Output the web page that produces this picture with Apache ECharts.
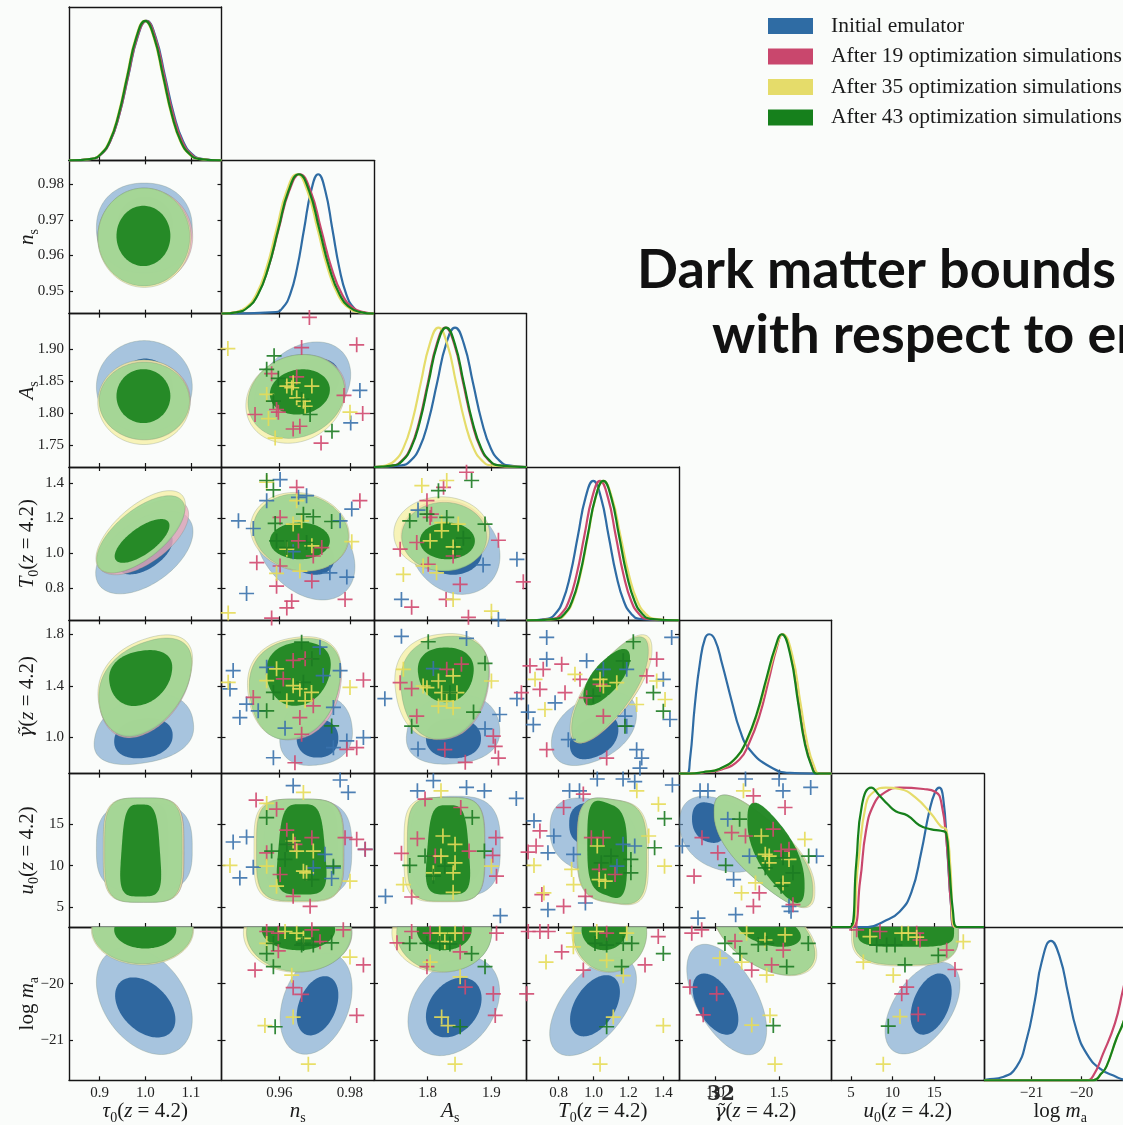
<!DOCTYPE html>
<html>
<head>
<meta charset="utf-8">
<title>Emulator convergence</title>
<script src="https://cdn.jsdelivr.net/npm/echarts@6/dist/echarts.min.js"></script>
<style>
html, body { margin: 0; padding: 0; background: #fafcfa; }
#corner { width: 1123px; height: 1125px; }
</style>
</head>
<body>
<div id="corner"></div>
<script>
var myChart = echarts.init(document.getElementById('corner'));

var names = ['Initial emulator', 'After 19 optimization simulations',
    'After 35 optimization simulations', 'After 43 optimization simulations'];

// axis ranges (x for columns, y for rows)
var xRange = [[0.833, 1.167], [0.9436, 0.9868], [1.716, 1.955], [0.615, 1.49], [0.715, 1.91], [2.65, 21.0], [-21.95, -18.9]];
var yRange = [null, [0.9436, 0.9868], [1.716, 1.955], [0.615, 1.49], [0.715, 1.91], [2.65, 21.0], [-21.705, -19.0]];
var xTicks = [[0.9, 1.0, 1.1], [0.96, 0.98], [1.8, 1.9], [0.8, 1.0, 1.2, 1.4], [1.0, 1.5], [5, 10, 15], [-21, -20]];
var yTicks = [null, [0.95, 0.96, 0.97, 0.98], [1.75, 1.80, 1.85, 1.90], [0.8, 1.0, 1.2, 1.4], [1.0, 1.4, 1.8], [5, 10, 15], [-21, -20]];
var xDec = [1, 2, 1, 1, 1, 0, 0];
var yDec = [0, 2, 2, 1, 1, 0, 0];

var axisNames = [
    '{i|τ}{s|0}{r|(}{i|z}{r| = 4.2)}',
    '{i|n}{s|s}',
    '{i|A}{s|s}',
    '{i|T}{s|0}{r|(}{i|z}{r| = 4.2)}',
    '{g|γ\u0303}{r|(}{i|z}{r| = 4.2)}',
    '{i|u}{s|0}{r|(}{i|z}{r| = 4.2)}',
    '{r|log }{i|m}{s|a}'
];

// 2D contours: [row, col, level(0=95%,1=68%), cx, cy, rx, ry, rho, squareness, rxRight?, ryTop?, taper?]
var contBlue = [
    [1, 0, 0, 0.998, 0.9677, 0.105, 0.0127, 0, 2.2], [1, 0, 1, 1.0, 0.969, 0.06, 0.0075, 0, 2],
    [2, 0, 0, 0.998, 1.841, 0.105, 0.072, 0, 2], [2, 0, 1, 1.0, 1.84, 0.06, 0.045, 0, 2],
    [3, 0, 0, 0.998, 1.003, 0.1066, 0.237, 0.5, 2], [3, 0, 1, 1.0, 1.002, 0.06, 0.125, 0.55, 2],
    [4, 0, 0, 0.997, 1.05, 0.108, 0.26, 0.25, 2.3, 0.108, 0.28, -0.1], [4, 0, 1, 0.996, 0.99, 0.064, 0.155, 0.15, 2.2],
    [5, 0, 0, 0.998, 12.0, 0.105, 5.2, 0, 3, 0.105, 5.5], [5, 0, 1, 1.0, 12.5, 0.05, 5.0, 0, 4],
    [6, 0, 0, 0.998, -20.3, 0.105, 0.95, -0.35, 2], [6, 0, 1, 1.0, -20.42, 0.066, 0.53, -0.4, 2],
    [2, 1, 0, 0.9665, 1.838, 0.0137, 0.073, 0.3, 2], [2, 1, 1, 0.969, 1.845, 0.008, 0.04, 0.3, 2],
    [3, 1, 0, 0.9673, 1.022, 0.0141, 0.291, -0.35, 2], [3, 1, 1, 0.968, 1.0, 0.0075, 0.125, -0.3, 2],
    [4, 1, 0, 0.9704, 1.05, 0.0102, 0.27, 0.1, 2.3, 0.0102, 0.27, -0.1], [4, 1, 1, 0.9708, 0.99, 0.0059, 0.15, 0, 2.2],
    [5, 1, 0, 0.968, 12.0, 0.0125, 5.8, 0, 3], [5, 1, 1, 0.9705, 13.0, 0.006, 4.5, 0, 3],
    [6, 1, 0, 0.9704, -20.35, 0.0102, 0.895, 0.3, 2], [6, 1, 1, 0.9708, -20.39, 0.0059, 0.523, 0.35, 2],
    [3, 2, 0, 1.843, 1.021, 0.0705, 0.258, -0.15, 2], [3, 2, 1, 1.84, 1.0, 0.045, 0.125, 0, 2],
    [4, 2, 0, 1.84, 1.06, 0.0726, 0.27, 0.1, 2.3, 0.0726, 0.27, -0.1], [4, 2, 1, 1.8406, 0.99, 0.0431, 0.155, 0, 2.2],
    [5, 2, 0, 1.843, 12.3, 0.071, 6.0, 0, 3], [5, 2, 1, 1.845, 12.5, 0.04, 4.5, 0, 3.5],
    [6, 2, 0, 1.841, -20.4, 0.0718, 0.87, 0.3, 2], [6, 2, 1, 1.841, -20.42, 0.0436, 0.527, 0.3, 2],
    [4, 3, 0, 1.002, 1.064, 0.244, 0.28, 0.4, 2.2], [4, 3, 1, 1.003, 1.0, 0.139, 0.17, 0.35, 2.2],
    [5, 3, 0, 1.0, 13.5, 0.25, 4.5, -0.2, 2.5], [5, 3, 1, 0.98, 15.0, 0.12, 2.5, 0, 2.5],
    [6, 3, 0, 0.997, -20.4, 0.249, 0.87, 0.55, 2], [6, 3, 1, 1.008, -20.39, 0.143, 0.54, 0.45, 2],
    [5, 4, 0, 1.03, 13.8, 0.31, 4.5, -0.3, 2.3, 0.35, 4.4], [5, 4, 1, 0.95, 15.14, 0.133, 2.4, -0.2, 2.3],
    [6, 4, 0, 1.089, -20.28, 0.313, 0.975, -0.55, 2], [6, 4, 1, 1.001, -20.36, 0.179, 0.54, -0.5, 2],
    [6, 5, 0, 13.6, -20.43, 4.51, 0.81, 0.5, 2], [6, 5, 1, 14.64, -20.36, 2.47, 0.54, 0.4, 2]
];
var contRed = [
    [1, 0, 0, 1.0, 0.9652, 0.104, 0.0136, 0, 2], [2, 0, 0, 0.999, 1.82, 0.1, 0.062, 0, 2],
    [3, 0, 0, 0.995, 1.09, 0.1, 0.215, 0.6, 2], [4, 0, 0, 1.0, 1.37, 0.1, 0.37, 0.35, 2.2, 0.1, 0.39, 0.15],
    [5, 0, 0, 0.997, 11.85, 0.088, 6.2, 0, 4], [6, 0, 0, 0.996, -19.05, 0.108, 0.6, 0, 2],
    [2, 1, 0, 0.965, 1.827, 0.0138, 0.064, 0.15, 2], [3, 1, 0, 0.966, 1.11, 0.0136, 0.215, -0.1, 2],
    [4, 1, 0, 0.9646, 1.37, 0.0128, 0.39, 0.1, 2.3, 0.0128, 0.39, 0.15], [5, 1, 0, 0.9658, 11.86, 0.0125, 6.1, 0, 4],
    [6, 1, 0, 0.9656, -19.1, 0.015, 0.68, 0, 2], [3, 2, 0, 1.826, 1.1, 0.068, 0.2, 0, 2],
    [4, 2, 0, 1.828, 1.38, 0.068, 0.4, 0.1, 2.3, 0.068, 0.4, 0.15], [5, 2, 0, 1.829, 11.94, 0.061, 6.2, 0, 4],
    [6, 2, 0, 1.826, -19.1, 0.074, 0.68, 0, 2], [4, 3, 0, 1.1, 1.365, 0.225, 0.4, 0.75, 2.2],
    [5, 3, 0, 1.106, 11.74, 0.2, 6.2, -0.1, 3.5], [6, 3, 0, 1.09, -19.1, 0.205, 0.68, 0, 2],
    [5, 4, 0, 1.38, 11.74, 0.39, 6.26, -0.75, 2.5], [6, 4, 0, 1.38, -19.1, 0.4, 0.74, -0.5, 2],
    [6, 5, 0, 11.6, -19.12, 6.3, 0.55, 0, 3]
];
var contYellow = [
    [1, 0, 0, 0.998, 0.965, 0.102, 0.014, 0, 2], [2, 0, 0, 0.997, 1.817, 0.101, 0.066, 0, 2],
    [3, 0, 0, 0.99, 1.12, 0.098, 0.235, 0.65, 2], [4, 0, 0, 1.0, 1.4, 0.102, 0.38, 0.35, 2.2, 0.102, 0.39, 0.15],
    [5, 0, 0, 0.996, 11.85, 0.088, 6.25, 0, 4], [6, 0, 0, 0.994, -19.05, 0.112, 0.62, 0, 2],
    [2, 1, 0, 0.9645, 1.822, 0.014, 0.069, 0.15, 2], [3, 1, 0, 0.9658, 1.12, 0.014, 0.225, -0.1, 2],
    [4, 1, 0, 0.9642, 1.385, 0.013, 0.395, 0.15, 2.3, 0.013, 0.395, 0.15], [5, 1, 0, 0.9655, 11.8, 0.0127, 6.15, 0, 4],
    [6, 1, 0, 0.965, -19.1, 0.0152, 0.7, 0, 2], [3, 2, 0, 1.822, 1.11, 0.075, 0.21, 0, 2],
    [4, 2, 0, 1.822, 1.395, 0.072, 0.41, 0.1, 2.3, 0.072, 0.41, 0.15], [5, 2, 0, 1.826, 11.9, 0.063, 6.25, 0, 4],
    [6, 2, 0, 1.822, -19.1, 0.078, 0.7, 0, 2], [4, 3, 0, 1.1, 1.375, 0.235, 0.41, 0.75, 2.2],
    [5, 3, 0, 1.11, 11.7, 0.205, 6.25, -0.1, 3.5], [6, 3, 0, 1.09, -19.1, 0.215, 0.7, 0, 2],
    [5, 4, 0, 1.385, 11.7, 0.395, 6.3, -0.75, 2.5], [6, 4, 0, 1.385, -19.1, 0.41, 0.76, -0.5, 2],
    [6, 5, 0, 11.5, -19.12, 6.45, 0.57, 0, 3]
];
var contGreen = [
    [1, 0, 0, 0.997, 0.9652, 0.1005, 0.0138, 0, 2], [1, 0, 1, 0.996, 0.9655, 0.059, 0.0085, 0, 2],
    [2, 0, 0, 0.998, 1.819, 0.099, 0.0606, 0, 2], [2, 0, 1, 0.996, 1.8265, 0.059, 0.042, 0, 2],
    [3, 0, 0, 0.99, 1.106, 0.0965, 0.22, 0.65, 2], [3, 0, 1, 0.993, 1.068, 0.06, 0.125, 0.7, 2],
    [4, 0, 0, 1.0, 1.38, 0.1, 0.37, 0.35, 2.2, 0.1, 0.385, 0.15], [4, 0, 1, 0.99, 1.46, 0.068, 0.216, 0.2, 2.2, 0.068, 0.216, 0.15],
    [5, 0, 0, 0.996, 11.85, 0.085, 6.25, 0, 4], [5, 0, 1, 0.99, 11.8, 0.042, 5.5, 0, 4, 0.042, 5.5, -0.17],
    [6, 0, 0, 0.994, -19.05, 0.11, 0.6, 0, 2], [6, 0, 1, 1.0, -19.05, 0.068, 0.33, 0, 2],
    [2, 1, 0, 0.9648, 1.826, 0.0137, 0.0654, 0.15, 2], [2, 1, 1, 0.9658, 1.833, 0.0085, 0.0353, 0.1, 2],
    [3, 1, 0, 0.9661, 1.116, 0.01346, 0.22, -0.1, 2], [3, 1, 1, 0.9658, 1.068, 0.0085, 0.105, 0, 2],
    [4, 1, 0, 0.9644, 1.375, 0.0127, 0.392, 0.15, 2.3, 0.0127, 0.392, 0.15], [4, 1, 1, 0.9654, 1.492, 0.009, 0.248, 0.1, 2.2, 0.009, 0.248, 0.15],
    [5, 1, 0, 0.9658, 11.86, 0.01227, 6.1, 0, 4], [5, 1, 1, 0.9663, 11.94, 0.0066, 5.41, 0, 4, 0.0066, 5.41, -0.17],
    [6, 1, 0, 0.9656, -19.1, 0.0149, 0.69, 0, 2], [6, 1, 1, 0.9654, -19.05, 0.0104, 0.36, 0, 2],
    [3, 2, 0, 1.826, 1.092, 0.0666, 0.196, 0, 2], [3, 2, 1, 1.831, 1.068, 0.0431, 0.105, 0, 2],
    [4, 2, 0, 1.827, 1.385, 0.0679, 0.4, 0.1, 2.3, 0.0679, 0.4, 0.15], [4, 2, 1, 1.8285, 1.485, 0.0431, 0.213, 0, 2.2, 0.0431, 0.213, 0.15],
    [5, 2, 0, 1.8288, 11.94, 0.0605, 6.22, 0, 4], [5, 2, 1, 1.832, 11.88, 0.0325, 5.35, 0, 4, 0.0325, 5.35, -0.17],
    [6, 2, 0, 1.826, -19.1, 0.0744, 0.69, 0, 2], [6, 2, 1, 1.826, -19.05, 0.043, 0.36, 0, 2],
    [4, 3, 0, 1.094, 1.369, 0.22, 0.4, 0.75, 2.2], [4, 3, 1, 1.075, 1.467, 0.134, 0.213, 0.7, 2.2],
    [5, 3, 0, 1.106, 11.74, 0.198, 6.2, -0.1, 3.5], [5, 3, 1, 1.078, 11.94, 0.114, 5.6, -0.15, 3.5],
    [6, 3, 0, 1.094, -19.1, 0.21, 0.69, 0, 2], [6, 3, 1, 1.06, -19.05, 0.129, 0.36, 0, 2],
    [5, 4, 0, 1.376, 11.74, 0.387, 6.26, -0.75, 2.5], [5, 4, 1, 1.475, 11.53, 0.224, 5.6, -0.7, 2.5],
    [6, 4, 0, 1.38, -19.1, 0.4, 0.75, -0.5, 2], [6, 4, 1, 1.42, -19.05, 0.25, 0.3, -0.4, 2],
    [6, 5, 0, 11.59, -19.12, 6.32, 0.55, 0, 3], [6, 5, 1, 11.6, -19.05, 5.8, 0.3, 0, 4]
];

// 1D marginals, one list of [x, y] per parameter
var margBlue = [
    [[0.833, 0], [0.883, 0.011], [0.903, 0.044], [0.923, 0.135], [0.943, 0.325], [0.963, 0.607], [0.983, 0.882], [1.003, 1], [1.023, 0.882], [1.043, 0.607], [1.063, 0.325], [1.083, 0.135], [1.103, 0.044], [1.123, 0.011], [1.167, 0]],
    [[0.9436, 0], [0.959, 0.011], [0.961, 0.044], [0.963, 0.135], [0.965, 0.325], [0.967, 0.607], [0.969, 0.882], [0.971, 1], [0.973, 0.882], [0.975, 0.607], [0.977, 0.325], [0.979, 0.135], [0.981, 0.044], [0.983, 0.011], [0.9868, 0]],
    [[1.716, 0], [1.759, 0.011], [1.773, 0.044], [1.787, 0.135], [1.801, 0.325], [1.815, 0.607], [1.829, 0.882], [1.843, 1], [1.857, 0.882], [1.871, 0.607], [1.885, 0.325], [1.899, 0.135], [1.913, 0.044], [1.927, 0.011], [1.955, 0]],
    [[0.615, 0], [0.734, 0.011], [0.778, 0.044], [0.822, 0.135], [0.866, 0.325], [0.91, 0.607], [0.954, 0.882], [0.998, 1], [1.042, 0.882], [1.086, 0.607], [1.13, 0.325], [1.174, 0.135], [1.218, 0.044], [1.262, 0.011], [1.49, 0]],
    [[0.715, 0], [0.775, 0], [0.801, 0.1], [0.84, 0.5], [0.88, 0.8], [0.919, 0.97], [0.952, 1.0], [0.997, 0.96], [1.052, 0.79], [1.128, 0.52], [1.193, 0.31], [1.271, 0.17], [1.428, 0.05], [1.585, 0.005], [1.74, 0], [1.91, 0]],
    [[2.65, 0], [7.04, 0], [8.94, 0.04], [10.84, 0.11], [12.27, 0.25], [13.46, 0.54], [14.42, 0.83], [15.13, 0.97], [15.61, 1.0], [16.08, 0.93], [16.56, 0.57], [17.03, 0.16], [17.41, 0], [21.0, 0]],
    [[-21.95, 0], [-21.9, 0.005], [-21.57, 0.024], [-21.3, 0.096], [-21.1, 0.289], [-20.93, 0.578], [-20.8, 0.843], [-20.61, 1.0], [-20.43, 0.879], [-20.27, 0.626], [-20.1, 0.361], [-19.9, 0.193], [-19.63, 0.084], [-19.3, 0.024], [-19.17, 0.007], [-18.9, 0]]
];
var margRed = [
    [[0.833, 0], [0.8835, 0.011], [0.9033, 0.044], [0.923, 0.135], [0.9428, 0.325], [0.9625, 0.607], [0.9823, 0.882], [1.002, 1], [1.0218, 0.882], [1.0415, 0.607], [1.0613, 0.325], [1.081, 0.135], [1.1008, 0.044], [1.1205, 0.011], [1.167, 0]],
    [[0.9436, 0], [0.9478, 0.011], [0.9508, 0.044], [0.9538, 0.135], [0.9568, 0.325], [0.9598, 0.607], [0.9628, 0.882], [0.9658, 1], [0.9688, 0.882], [0.9718, 0.607], [0.9748, 0.325], [0.9778, 0.135], [0.9808, 0.044], [0.9838, 0.011], [0.9868, 0]],
    [[1.716, 0], [1.7455, 0.011], [1.7593, 0.044], [1.773, 0.135], [1.7868, 0.325], [1.8005, 0.607], [1.8143, 0.882], [1.828, 1], [1.8418, 0.882], [1.8555, 0.607], [1.8693, 0.325], [1.883, 0.135], [1.8968, 0.044], [1.9105, 0.011], [1.955, 0]],
    [[0.615, 0], [0.767, 0.011], [0.812, 0.044], [0.857, 0.135], [0.902, 0.325], [0.947, 0.607], [0.992, 0.882], [1.037, 1], [1.082, 0.882], [1.127, 0.607], [1.172, 0.325], [1.217, 0.135], [1.262, 0.044], [1.307, 0.011], [1.49, 0]],
    [[0.715, 0], [0.801, 0], [0.9, 0.008], [1.05, 0.03], [1.187, 0.1], [1.265, 0.22], [1.344, 0.41], [1.42, 0.68], [1.48, 0.9], [1.525, 1.0], [1.59, 0.86], [1.655, 0.5], [1.707, 0.21], [1.76, 0.05], [1.8, 0], [1.91, 0]],
    [[2.65, 0], [5.14, 0], [6.09, 0.33], [6.8, 0.69], [7.75, 0.88], [8.94, 0.96], [10.84, 1.0], [13.71, 0.99], [15.13, 0.97], [15.84, 0.9], [16.56, 0.57], [17.03, 0.16], [17.5, 0], [21.0, 0]],
    [[-21.95, 0], [-19.9, 0], [-19.77, 0.03], [-19.57, 0.19], [-19.33, 0.41], [-19.17, 0.65], [-19.0, 0.9], [-18.85, 1.0]]
];
var margYellow = [
    [[0.833, 0], [0.882, 0.011], [0.9015, 0.044], [0.921, 0.135], [0.9405, 0.325], [0.96, 0.607], [0.9795, 0.882], [0.999, 1], [1.0185, 0.882], [1.038, 0.607], [1.0575, 0.325], [1.077, 0.135], [1.0965, 0.044], [1.116, 0.011], [1.167, 0]],
    [[0.9436, 0], [0.9476, 0.011], [0.9505, 0.044], [0.9534, 0.135], [0.9563, 0.325], [0.9592, 0.607], [0.9621, 0.882], [0.965, 1], [0.9679, 0.882], [0.9708, 0.607], [0.9737, 0.325], [0.9766, 0.135], [0.9795, 0.044], [0.9824, 0.011], [0.9868, 0]],
    [[1.716, 0], [1.7345, 0.011], [1.7483, 0.044], [1.762, 0.135], [1.7758, 0.325], [1.7895, 0.607], [1.8033, 0.882], [1.817, 1], [1.8308, 0.882], [1.8445, 0.607], [1.8583, 0.325], [1.872, 0.135], [1.8858, 0.044], [1.8995, 0.011], [1.955, 0]],
    [[0.615, 0], [0.792, 0.011], [0.836, 0.044], [0.88, 0.135], [0.924, 0.325], [0.968, 0.607], [1.012, 0.882], [1.056, 1], [1.105, 0.882], [1.154, 0.607], [1.203, 0.325], [1.252, 0.135], [1.301, 0.044], [1.35, 0.011], [1.49, 0]],
    [[0.715, 0], [0.801, 0], [0.9, 0.01], [1.04, 0.036], [1.17, 0.12], [1.25, 0.24], [1.33, 0.43], [1.41, 0.69], [1.475, 0.9], [1.528, 1.0], [1.6, 0.86], [1.668, 0.5], [1.722, 0.21], [1.775, 0.05], [1.815, 0], [1.91, 0]],
    [[2.65, 0], [4.9, 0], [5.85, 0.45], [6.8, 0.88], [7.75, 0.97], [9.18, 1.0], [10.84, 0.99], [12.74, 0.93], [14.66, 0.81], [15.84, 0.72], [16.46, 0.7], [16.93, 0.45], [17.5, 0], [21.0, 0]],
    [[-21.95, 0], [-19.77, 0], [-19.6, 0.05], [-19.5, 0.1], [-19.3, 0.3], [-19.17, 0.41], [-19.0, 0.62], [-18.9, 0.8]]
];
var margGreen = [
    [[0.833, 0], [0.883, 0.011], [0.9025, 0.044], [0.922, 0.135], [0.9415, 0.325], [0.961, 0.607], [0.9805, 0.882], [1.0, 1], [1.0195, 0.882], [1.039, 0.607], [1.0585, 0.325], [1.078, 0.135], [1.0975, 0.044], [1.117, 0.011], [1.167, 0]],
    [[0.9436, 0], [0.9481, 0.011], [0.951, 0.044], [0.9539, 0.135], [0.9568, 0.325], [0.9597, 0.607], [0.9626, 0.882], [0.9655, 1], [0.9684, 0.882], [0.9713, 0.607], [0.9742, 0.325], [0.9771, 0.135], [0.98, 0.044], [0.9829, 0.011], [0.9868, 0]],
    [[1.716, 0], [1.7465, 0.011], [1.7603, 0.044], [1.774, 0.135], [1.7878, 0.325], [1.8015, 0.607], [1.8153, 0.882], [1.829, 1], [1.8428, 0.882], [1.8565, 0.607], [1.8703, 0.325], [1.884, 0.135], [1.8978, 0.044], [1.9115, 0.011], [1.955, 0]],
    [[0.615, 0], [0.786, 0.011], [0.831, 0.044], [0.876, 0.135], [0.921, 0.325], [0.966, 0.607], [1.011, 0.882], [1.056, 1], [1.101, 0.882], [1.146, 0.607], [1.191, 0.325], [1.236, 0.135], [1.281, 0.044], [1.326, 0.011], [1.49, 0]],
    [[0.715, 0], [0.801, 0], [0.9, 0.01], [1.036, 0.036], [1.167, 0.12], [1.245, 0.24], [1.324, 0.43], [1.402, 0.69], [1.467, 0.9], [1.52, 1.0], [1.585, 0.86], [1.65, 0.5], [1.702, 0.21], [1.755, 0.05], [1.794, 0], [1.91, 0]],
    [[2.65, 0], [4.9, 0], [5.62, 0.45], [6.33, 0.88], [7.43, 1.0], [8.47, 0.94], [9.42, 0.88], [10.37, 0.83], [11.79, 0.8], [13.22, 0.73], [14.66, 0.7], [15.84, 0.69], [16.46, 0.67], [16.8, 0.45], [17.27, 0.11], [17.75, 0], [21.0, 0]],
    [[-21.95, 0], [-19.77, 0], [-19.6, 0.05], [-19.5, 0.1], [-19.3, 0.3], [-19.17, 0.41], [-19.0, 0.62], [-18.9, 0.8]]
];

// optimisation simulations: [row, col, x, y]
var crossBlue = [
    [2, 1, 0.9828, 1.8354], [2, 1, 0.9802, 1.7846],
    [3, 1, 0.9602, 1.418], [3, 1, 0.9564, 1.298], [3, 1, 0.9654, 1.317], [3, 1, 0.9677, 1.326], [3, 1, 0.9484, 1.183], [3, 1, 0.9526, 1.139],
    [3, 1, 0.9805, 1.25], [3, 1, 0.9772, 1.183], [3, 1, 0.9791, 0.862], [3, 1, 0.9743, 0.886], [3, 1, 0.9507, 0.768], [3, 1, 0.9639, 1.007],
    [4, 1, 0.9469, 1.518], [4, 1, 0.946, 1.375], [4, 1, 0.9507, 1.257], [4, 1, 0.9488, 1.152], [4, 1, 0.954, 1.205], [4, 1, 0.9564, 1.544],
    [4, 1, 0.9715, 1.701], [4, 1, 0.9772, 1.518], [4, 1, 0.9753, 1.231], [4, 1, 0.9616, 1.069], [4, 1, 0.9583, 0.839], [4, 1, 0.9791, 0.97],
    [4, 1, 0.9838, 0.996], [4, 1, 0.9724, 1.479], [4, 1, 0.9753, 0.917],
    [5, 1, 0.9639, 19.56], [5, 1, 0.9772, 20.24], [5, 1, 0.9795, 18.75], [5, 1, 0.9469, 12.82], [5, 1, 0.9507, 13.42], [5, 1, 0.9526, 9.81],
    [5, 1, 0.9488, 8.52], [5, 1, 0.9729, 11.34], [5, 1, 0.9748, 8.45], [5, 1, 0.9753, 9.73], [5, 1, 0.9843, 11.94], [5, 1, 0.9696, 9.73],
    [3, 2, 1.785, 1.244], [3, 2, 1.94, 0.963], [3, 2, 1.887, 0.931], [3, 2, 1.759, 0.734], [3, 2, 1.911, 0.619],
    [4, 2, 1.759, 1.785], [4, 2, 1.861, 1.769], [4, 2, 1.733, 1.299], [4, 2, 1.94, 1.299], [4, 2, 1.913, 1.176], [4, 2, 1.89, 1.064],
    [4, 2, 1.785, 0.907], [4, 2, 1.809, 1.534],
    [5, 2, 1.809, 20.16], [5, 2, 1.784, 18.95], [5, 2, 1.861, 19.35], [5, 2, 1.889, 18.95], [5, 2, 1.939, 18.03], [5, 2, 1.734, 6.32], [5, 2, 1.914, 4.0],
    [4, 3, 0.731, 1.777], [4, 3, 0.731, 1.607], [4, 3, 0.96, 1.594], [4, 3, 1.056, 1.528], [4, 3, 1.19, 1.528], [4, 3, 0.779, 1.267],
    [4, 3, 0.625, 1.195], [4, 3, 0.654, 1.097], [4, 3, 0.855, 0.98], [4, 3, 1.18, 1.163], [4, 3, 1.19, 1.085], [4, 3, 1.247, 0.902],
    [4, 3, 1.276, 0.836], [4, 3, 1.266, 0.758], [4, 3, 1.4, 1.45], [4, 3, 1.448, 1.777], [4, 3, 1.438, 1.137],
    [5, 3, 0.919, 18.95], [5, 3, 0.862, 18.95], [5, 3, 1.021, 20.36], [5, 3, 1.169, 20.36], [5, 3, 1.236, 20.04], [5, 3, 1.452, 19.64],
    [5, 3, 0.658, 15.35], [5, 3, 0.772, 13.54], [5, 3, 0.738, 11.53], [5, 3, 0.885, 11.34], [5, 3, 1.134, 9.93], [5, 3, 1.236, 12.34],
    [5, 3, 0.738, 4.72], [5, 3, 0.953, 5.52], [5, 3, 1.169, 12.54],
    [5, 4, 0.88, 18.95], [5, 4, 0.942, 18.95], [5, 4, 1.236, 20.36], [5, 4, 1.499, 20.36], [5, 4, 1.53, 18.95], [5, 4, 1.747, 19.35],
    [5, 4, 0.741, 12.34], [5, 4, 1.097, 15.55], [5, 4, 1.267, 11.14], [5, 4, 1.143, 8.33], [5, 4, 0.864, 3.71], [5, 4, 1.159, 4.12],
    [5, 4, 1.577, 5.12], [5, 4, 1.593, 4.52], [5, 4, 1.793, 11.14]
];
var crossRed = [
    [2, 1, 0.9685, 1.9492], [2, 1, 0.9819, 1.9064], [2, 1, 0.9663, 1.9022], [2, 1, 0.9578, 1.8614], [2, 1, 0.9649, 1.8563], [2, 1, 0.9783, 1.8276],
    [2, 1, 0.9531, 1.7978], [2, 1, 0.9597, 1.8014], [2, 1, 0.9836, 1.7994], [2, 1, 0.9639, 1.7752], [2, 1, 0.9658, 1.7795], [2, 1, 0.9718, 1.7533], [2, 1, 0.9592, 1.8056],
    [3, 1, 0.9649, 1.374], [3, 1, 0.9828, 1.298], [3, 1, 0.9602, 1.202], [3, 1, 0.9536, 0.944], [3, 1, 0.9602, 0.925], [3, 1, 0.9592, 0.81],
    [3, 1, 0.9692, 0.839], [3, 1, 0.9696, 0.982], [3, 1, 0.972, 1.03], [3, 1, 0.9654, 1.068], [3, 1, 0.9786, 0.734], [3, 1, 0.9635, 0.724],
    [3, 1, 0.9621, 0.686], [3, 1, 0.9578, 0.628],
    [4, 1, 0.9639, 1.597], [4, 1, 0.9673, 1.61], [4, 1, 0.9611, 1.453], [4, 1, 0.9696, 1.244], [4, 1, 0.9658, 1.152], [4, 1, 0.9663, 1.022],
    [4, 1, 0.9526, 1.309], [4, 1, 0.9838, 1.445], [4, 1, 0.9791, 0.905], [4, 1, 0.9644, 0.8], [4, 1, 0.9819, 0.917],
    [5, 1, 0.9534, 17.84], [5, 1, 0.9592, 16.75], [5, 1, 0.9621, 14.23], [5, 1, 0.9692, 13.34], [5, 1, 0.9564, 11.53], [5, 1, 0.9602, 8.93],
    [5, 1, 0.9639, 6.32], [5, 1, 0.9687, 5.12], [5, 1, 0.9786, 13.34], [5, 1, 0.9819, 13.14], [5, 1, 0.9843, 11.94], [5, 1, 0.9644, 12.54],
    [6, 1, 0.9564, -19.08], [6, 1, 0.9597, -19.11], [6, 1, 0.9692, -19.05], [6, 1, 0.9781, -19.05], [6, 1, 0.9715, -19.26], [6, 1, 0.9597, -19.42],
    [6, 1, 0.9531, -19.76], [6, 1, 0.9838, -19.67], [6, 1, 0.9639, -20.07], [6, 1, 0.9663, -20.19], [6, 1, 0.9819, -20.56],
    [3, 2, 1.861, 1.46], [3, 2, 1.799, 1.298], [3, 2, 1.825, 1.374], [3, 2, 1.804, 1.202], [3, 2, 1.757, 1.021], [3, 2, 1.783, 1.059],
    [3, 2, 1.911, 1.072], [3, 2, 1.801, 0.935], [3, 2, 1.84, 0.982], [3, 2, 1.851, 0.82], [3, 2, 1.829, 0.734], [3, 2, 1.775, 0.69],
    [3, 2, 1.864, 0.632], [3, 2, 1.95, 0.835], [3, 2, 1.806, 1.221],
    [4, 2, 1.757, 1.424], [4, 2, 1.775, 1.377], [4, 2, 1.853, 1.568], [4, 2, 1.83, 1.528], [4, 2, 1.783, 1.163], [4, 2, 1.827, 0.902],
    [4, 2, 1.859, 0.803], [4, 2, 1.903, 1.007], [4, 2, 1.906, 0.928], [4, 2, 1.911, 0.836], [4, 2, 1.947, 1.346],
    [5, 2, 1.796, 17.96], [5, 2, 1.852, 16.95], [5, 2, 1.907, 13.34], [5, 2, 1.759, 11.46], [5, 2, 1.784, 13.22], [5, 2, 1.902, 11.22],
    [5, 2, 1.865, 11.74], [5, 2, 1.908, 8.73], [5, 2, 1.775, 6.24], [5, 2, 1.812, 11.14],
    [6, 2, 1.752, -19.28], [6, 2, 1.775, -19.08], [6, 2, 1.804, -19.11], [6, 2, 1.856, -19.11], [6, 2, 1.851, -19.44], [6, 2, 1.799, -19.7],
    [6, 2, 1.859, -20.06], [6, 2, 1.903, -20.18], [6, 2, 1.906, -20.56], [6, 2, 1.908, -19.11],
    [4, 3, 0.635, 1.555], [4, 3, 0.711, 1.528], [4, 3, 0.817, 1.568], [4, 3, 0.692, 1.372], [4, 3, 0.836, 1.346], [4, 3, 0.922, 1.45],
    [4, 3, 1.037, 1.411], [4, 3, 1.056, 1.163], [4, 3, 0.731, 0.902], [4, 3, 1.075, 0.836], [4, 3, 1.362, 1.607], [4, 3, 1.305, 1.477], [4, 3, 0.96, 1.307],
    [5, 3, 0.692, 14.14], [5, 3, 0.624, 11.62], [5, 3, 0.941, 18.56], [5, 3, 0.828, 16.95], [5, 3, 0.987, 13.34], [5, 3, 1.055, 13.34],
    [5, 3, 0.703, 6.53], [5, 3, 0.828, 5.12], [5, 3, 0.953, 6.32], [5, 3, 1.032, 9.54], [5, 3, 1.123, 8.93], [5, 3, 0.67, 12.34],
    [6, 3, 0.625, -19.08], [6, 3, 0.692, -19.08], [6, 3, 0.74, -19.08], [6, 3, 0.817, -19.44], [6, 3, 0.941, -19.76], [6, 3, 1.075, -19.11],
    [6, 3, 1.295, -19.67], [6, 3, 1.371, -19.17], [6, 3, 0.616, -20.18],
    [5, 4, 0.895, 13.34], [5, 4, 1.298, 18.35], [5, 4, 1.546, 16.95], [5, 4, 1.128, 13.94], [5, 4, 1.236, 13.54], [5, 4, 1.453, 14.35],
    [5, 4, 1.019, 11.53], [5, 4, 0.833, 8.73], [5, 4, 1.344, 6.72], [5, 4, 1.515, 11.74], [5, 4, 1.577, 11.94], [5, 4, 1.298, 5.12], [5, 4, 1.608, 5.32],
    [6, 4, 0.815, -19.11], [6, 4, 0.893, -19.05], [6, 4, 1.154, -19.25], [6, 4, 1.285, -19.76], [6, 4, 1.441, -19.67], [6, 4, 1.532, -19.41],
    [6, 4, 0.801, -20.06], [6, 4, 1.01, -20.18], [6, 4, 0.905, -20.55],
    [6, 5, 5.68, -19.05], [6, 5, 8.48, -19.08], [6, 5, 12.9, -19.11], [6, 5, 13.3, -19.23], [6, 5, 16.51, -19.41], [6, 5, 17.51, -19.75],
    [6, 5, 11.7, -20.06], [6, 5, 11.1, -20.18], [6, 5, 13.09, -20.54]
];
var crossYellow = [
    [2, 1, 0.9454, 1.9006], [2, 1, 0.9621, 1.8421], [2, 1, 0.9639, 1.8473], [2, 1, 0.9692, 1.8421], [2, 1, 0.9649, 1.8238], [2, 1, 0.9668, 1.8186],
    [2, 1, 0.9673, 1.8107], [2, 1, 0.9564, 1.8291], [2, 1, 0.9569, 1.7915], [2, 1, 0.9588, 1.7611], [2, 1, 0.98, 1.8014], [2, 1, 0.9635, 1.8395],
    [3, 1, 0.9564, 1.403], [3, 1, 0.9649, 1.298], [3, 1, 0.9592, 0.883], [3, 1, 0.9639, 1.164], [3, 1, 0.9663, 1.183], [3, 1, 0.9621, 1.021],
    [3, 1, 0.9692, 1.04], [3, 1, 0.9805, 1.064], [3, 1, 0.9455, 0.657], [3, 1, 0.9658, 0.896],
    [4, 1, 0.9455, 1.427], [4, 1, 0.9564, 1.44], [4, 1, 0.9639, 1.401], [4, 1, 0.9658, 1.375], [4, 1, 0.9691, 1.348], [4, 1, 0.9673, 1.283],
    [4, 1, 0.98, 1.387], [4, 1, 0.9621, 1.283], [4, 1, 0.9592, 1.532],
    [5, 1, 0.9668, 18.75], [5, 1, 0.9564, 17.43], [5, 1, 0.946, 10.02], [5, 1, 0.9639, 12.94], [5, 1, 0.9649, 11.74], [5, 1, 0.9696, 11.74],
    [5, 1, 0.9668, 9.33], [5, 1, 0.9677, 9.13], [5, 1, 0.9592, 7.53], [5, 1, 0.98, 8.13], [5, 1, 0.9564, 9.93],
    [6, 1, 0.9616, -19.08], [6, 1, 0.9649, -19.11], [6, 1, 0.9668, -19.2], [6, 1, 0.9564, -19.29], [6, 1, 0.98, -19.53], [6, 1, 0.9635, -19.85],
    [6, 1, 0.9639, -20.59], [6, 1, 0.9559, -20.74], [6, 1, 0.9682, -21.42],
    [3, 2, 1.791, 1.384], [3, 2, 1.83, 1.413], [3, 2, 1.822, 1.173], [3, 2, 1.848, 1.164], [3, 2, 1.822, 1.126], [3, 2, 1.804, 1.068],
    [3, 2, 1.84, 1.034], [3, 2, 1.762, 0.877], [3, 2, 1.793, 0.925], [3, 2, 1.814, 0.886], [3, 2, 1.9, 0.667], [3, 2, 1.84, 0.734],
    [4, 2, 1.762, 1.528], [4, 2, 1.9, 1.437], [4, 2, 1.799, 1.385], [4, 2, 1.817, 1.437], [4, 2, 1.84, 1.477], [4, 2, 1.822, 1.346],
    [4, 2, 1.846, 1.346], [4, 2, 1.83, 1.281], [4, 2, 1.84, 1.228], [4, 2, 1.817, 1.242], [4, 2, 1.793, 1.398],
    [5, 2, 1.821, 18.95], [5, 2, 1.824, 13.54], [5, 2, 1.843, 12.54], [5, 2, 1.821, 11.14], [5, 2, 1.843, 10.33], [5, 2, 1.809, 9.13],
    [5, 2, 1.84, 9.13], [5, 2, 1.762, 7.73], [5, 2, 1.84, 6.8], [5, 2, 1.9, 9.93],
    [6, 2, 1.819, -19.11], [6, 2, 1.843, -19.11], [6, 2, 1.827, -19.26], [6, 2, 1.804, -19.62], [6, 2, 1.851, -19.88], [6, 2, 1.822, -20.59],
    [6, 2, 1.832, -20.74], [6, 2, 1.843, -21.42],
    [4, 3, 0.664, 1.45], [4, 3, 0.721, 1.215], [4, 3, 0.893, 1.489], [4, 3, 1.037, 1.45], [4, 3, 1.056, 1.398], [4, 3, 1.133, 1.424],
    [4, 3, 1.247, 1.254], [4, 3, 1.362, 1.437], [4, 3, 1.41, 1.293],
    [5, 3, 1.248, 18.95], [5, 3, 1.372, 17.35], [5, 3, 1.316, 13.54], [5, 3, 1.021, 12.34], [5, 3, 0.874, 9.54], [5, 3, 0.885, 7.73],
    [5, 3, 1.032, 8.33], [5, 3, 1.067, 8.13], [5, 3, 1.407, 9.93], [5, 3, 0.658, 10.02], [5, 3, 0.715, 6.72],
    [6, 3, 0.884, -19.11], [6, 3, 0.884, -19.35], [6, 3, 1.018, -19.08], [6, 3, 1.19, -19.11], [6, 3, 0.727, -19.62], [6, 3, 1.075, -19.59],
    [6, 3, 1.17, -19.86], [6, 3, 1.113, -20.59], [6, 3, 1.4, -20.74], [6, 3, 1.037, -21.42],
    [5, 4, 1.22, 18.95], [5, 4, 1.36, 13.54], [5, 4, 1.391, 11.34], [5, 4, 1.422, 11.14], [5, 4, 1.205, 6.72], [5, 4, 1.314, 7.92],
    [5, 4, 1.53, 7.92], [5, 4, 1.577, 10.74], [5, 4, 1.422, 10.33], [5, 4, 1.701, 13.14],
    [6, 4, 1.245, -19.11], [6, 4, 1.389, -19.23], [6, 4, 1.546, -19.14], [6, 4, 1.206, -19.62], [6, 4, 1.402, -19.85], [6, 4, 1.428, -20.56],
    [6, 4, 1.285, -20.73], [6, 4, 1.467, -21.42], [6, 4, 1.036, -19.55],
    [6, 5, 7.28, -19.17], [6, 5, 11.1, -19.11], [6, 5, 11.89, -19.11], [6, 5, 12.9, -19.18], [6, 5, 18.51, -19.26], [6, 5, 6.48, -19.62],
    [6, 5, 10.08, -19.85], [6, 5, 10.89, -20.58], [6, 5, 8.88, -21.42]
];
var crossGreen = [
    [2, 1, 0.9585, 1.8892], [2, 1, 0.9564, 1.8683], [2, 1, 0.9583, 1.8186], [2, 1, 0.9687, 1.7978], [2, 1, 0.9749, 1.7716], [2, 1, 0.9663, 1.8213], [2, 1, 0.9597, 1.8542],
    [3, 1, 0.9564, 1.413], [3, 1, 0.9583, 1.359], [3, 1, 0.9668, 1.221], [3, 1, 0.9696, 1.206], [3, 1, 0.9748, 1.179], [3, 1, 0.9588, 1.168],
    [3, 1, 0.9592, 1.068], [3, 1, 0.9621, 1.03], [3, 1, 0.9677, 1.059],
    [4, 1, 0.9663, 1.74], [4, 1, 0.9564, 1.205], [4, 1, 0.9583, 1.348], [4, 1, 0.9692, 1.61], [4, 1, 0.9748, 1.087], [4, 1, 0.9668, 1.427],
    [5, 1, 0.9564, 15.74], [5, 1, 0.9578, 11.74], [5, 1, 0.9616, 10.74], [5, 1, 0.9692, 8.33], [5, 1, 0.9753, 9.93], [5, 1, 0.9621, 12.54],
    [6, 1, 0.9583, -19.29], [6, 1, 0.9564, -19.47], [6, 1, 0.9583, -19.7], [6, 1, 0.9663, -19.32], [6, 1, 0.9696, -19.32], [6, 1, 0.9748, -19.28],
    [6, 1, 0.9588, -20.76], [6, 1, 0.9668, -19.29],
    [3, 2, 1.817, 1.355], [3, 2, 1.869, 1.413], [3, 2, 1.772, 1.183], [3, 2, 1.799, 1.221], [3, 2, 1.83, 1.202], [3, 2, 1.89, 1.164],
    [3, 2, 1.856, 1.084], [3, 2, 1.843, 1.021],
    [4, 2, 1.801, 1.743], [4, 2, 1.89, 1.575], [4, 2, 1.872, 1.195], [4, 2, 1.775, 1.085], [4, 2, 1.835, 1.346],
    [5, 2, 1.87, 15.74], [5, 2, 1.889, 11.74], [5, 2, 1.772, 10.02], [5, 2, 1.796, 11.14], [5, 2, 1.827, 9.93], [5, 2, 1.809, 8.73],
    [6, 2, 1.772, -19.29], [6, 2, 1.799, -19.29], [6, 2, 1.819, -19.29], [6, 2, 1.835, -19.3], [6, 2, 1.869, -19.47], [6, 2, 1.89, -19.7], [6, 2, 1.851, -20.76],
    [4, 3, 1.228, 1.743], [4, 3, 0.998, 1.32], [4, 3, 1.18, 1.085], [4, 3, 1.343, 1.346], [4, 3, 1.4, 1.202], [4, 3, 1.17, 1.594],
    [5, 3, 1.407, 15.62], [5, 3, 1.35, 12.13], [5, 3, 1.044, 10.33], [5, 3, 1.1, 11.14], [5, 3, 1.214, 9.13], [5, 3, 1.214, 10.74],
    [6, 3, 1.008, -19.29], [6, 3, 1.075, -19.32], [6, 3, 1.17, -19.29], [6, 3, 1.219, -19.29], [6, 3, 1.161, -19.7], [6, 3, 1.4, -19.47], [6, 3, 1.075, -20.76],
    [5, 4, 1.19, 15.55], [5, 4, 1.081, 10.02], [5, 4, 1.391, 9.73], [5, 4, 1.53, 10.93], [5, 4, 1.731, 11.14], [5, 4, 1.608, 9.13], [5, 4, 1.515, 7.53],
    [6, 4, 1.075, -19.29], [6, 4, 1.193, -19.47], [6, 4, 1.336, -19.31], [6, 4, 1.402, -19.29], [6, 4, 1.559, -19.7], [6, 4, 1.728, -19.29], [6, 4, 1.454, -20.74],
    [6, 5, 8.09, -19.32], [6, 5, 9.29, -19.32], [6, 5, 10.29, -19.32], [6, 5, 15.5, -19.5], [6, 5, 11.49, -19.67], [6, 5, 9.48, -20.75]
];

var F = '"Liberation Serif", "DejaVu Serif", serif';
var lineColors = ['#2f6ca4', '#c9476d', '#e5dc6a', '#16801c'];
var crossColors = ['#3a72ac', '#d0496f', '#e6dc58', '#1c7b22'];
var fills = [
    ['rgba(112,158,203,0.6)', 'rgba(40,98,155,0.95)'],
    ['rgba(236,170,184,0.78)', 'rgba(200,70,100,0.9)'],
    ['rgba(246,240,165,0.78)', 'rgba(228,216,96,0.9)'],
    ['rgba(150,211,145,0.84)', 'rgba(32,134,34,0.96)']
];
var contSets = [contBlue, contRed, contYellow, contGreen];
var margSets = [margBlue, margRed, margYellow, margGreen];
var crossSets = [crossBlue, crossRed, crossYellow, crossGreen];

var LEFT = 69, TOP = 7, CW = 152.5, RH = 153.33;

function fmt(v, d) {
    var s = v.toFixed(d);
    return s.charAt(0) === '-' ? '\u2212' + s.slice(1) : s;
}

function spow(a, e) { return (a < 0 ? -1 : 1) * Math.pow(Math.abs(a), e); }

// contour outline in data space, mapped through the grid's axes
function outline(e, api) {
    var cx = e[3], cy = e[4], rx = e[5], ry = e[6], rho = e[7], p = e[8];
    var rxR = e.length > 9 ? e[9] : rx, ryT = e.length > 10 ? e[10] : ry, taper = e.length > 11 ? e[11] : 0;
    var q = Math.sqrt(1 - rho * rho), pts = [];
    for (var k = 0; k < 120; k++) {
        var t = k / 120 * 2 * Math.PI;
        var u = spow(Math.cos(t), 2 / p), v = spow(Math.sin(t), 2 / p);
        var s = rho * u + q * v;
        var w = (u > 0 ? rxR : rx) * u * (1 + taper * v);
        pts.push(api.coord([cx + w, cy + (s > 0 ? ryT : ry) * s]));
    }
    return pts;
}

function clipPoly(pts, box) {
    var planes = [[0, box.x, 1], [0, box.x + box.width, -1], [1, box.y, 1], [1, box.y + box.height, -1]];
    for (var j = 0; j < planes.length && pts.length; j++) {
        var k = planes[j][0], b = planes[j][1], sg = planes[j][2], out = [];
        for (var i = 0; i < pts.length; i++) {
            var a = pts[i], c = pts[(i + 1) % pts.length];
            var ina = (a[k] - b) * sg >= 0, inc = (c[k] - b) * sg >= 0;
            if (ina) out.push(a);
            if (ina !== inc) {
                var t = (b - a[k]) / (c[k] - a[k]);
                out.push([a[0] + t * (c[0] - a[0]), a[1] + t * (c[1] - a[1])]);
            }
        }
        pts = out;
    }
    return pts;
}

var nameRich = {
    i: { fontFamily: F, fontStyle: 'italic', fontSize: 21, lineHeight: 28, color: '#1a1a1a' },
    g: { fontFamily: '"DejaVu Serif", serif', fontStyle: 'italic', fontSize: 19, lineHeight: 28, color: '#1a1a1a' },
    r: { fontFamily: F, fontSize: 21, lineHeight: 28, color: '#1a1a1a' },
    s: { fontFamily: F, fontSize: 14, lineHeight: 14, verticalAlign: 'bottom', color: '#1a1a1a' }
};
var axisLine = { show: true, onZero: false, lineStyle: { color: '#151515', width: 1.4 } };
function ticks(vals, show) {
    return { show: show, inside: true, length: 4, customValues: vals || [], lineStyle: { color: '#151515', width: 1.2 } };
}
function labels(vals, dec, show) {
    return {
        show: show, customValues: vals || [], margin: 5, fontFamily: F, fontSize: 15, color: '#222',
        formatter: function (v) { return fmt(v, dec); }
    };
}

var grids = [], xAxes = [], yAxes = [], series = [];
var gi = 0;
for (var r = 0; r < 7; r++) {
    for (var c = 0; c <= r; c++) {
        var diag = r === c;
        grids.push({ left: LEFT + c * CW, top: TOP + r * RH, width: CW, height: RH, containLabel: false, outerBoundsMode: 'none' });
        xAxes.push({
            gridIndex: gi, type: 'value', position: 'bottom', min: xRange[c][0], max: xRange[c][1],
            axisLine: axisLine, axisTick: ticks(xTicks[c], true), axisLabel: labels(xTicks[c], xDec[c], r === 6),
            splitLine: { show: false },
            name: r === 6 ? axisNames[c] : '', nameLocation: 'middle', nameGap: 16,
            nameTextStyle: { rich: nameRich }
        });
        xAxes.push({
            gridIndex: gi, type: 'value', position: 'top', min: xRange[c][0], max: xRange[c][1],
            axisLine: axisLine, axisTick: ticks(xTicks[c], !diag), axisLabel: { show: false }, splitLine: { show: false }
        });
        var ymin = diag ? 0 : yRange[r][0], ymax = diag ? 1.1 : yRange[r][1];
        var yt = diag ? null : yTicks[r];
        yAxes.push({
            gridIndex: gi, type: 'value', position: 'left', min: ymin, max: ymax,
            axisLine: axisLine, axisTick: ticks(yt, !diag), axisLabel: labels(yt, yDec[r], c === 0 && !diag),
            splitLine: { show: false },
            name: (c === 0 && !diag) ? axisNames[r] : '', nameLocation: 'middle', nameGap: 28,
            nameMoveOverlap: false,
            nameTextStyle: { rich: nameRich }
        });
        yAxes.push({
            gridIndex: gi, type: 'value', position: 'right', min: ymin, max: ymax,
            axisLine: axisLine, axisTick: ticks(yt, !diag), axisLabel: { show: false }, splitLine: { show: false }
        });

        if (diag) {
            for (var k = 0; k < 4; k++) {
                series.push({
                    type: 'line', name: r === 0 ? names[k] : undefined,
                    xAxisIndex: 2 * gi, yAxisIndex: 2 * gi, data: margSets[k][r],
                    smooth: 0.5, showSymbol: false, symbol: 'none', clip: true,
                    lineStyle: { color: lineColors[k], width: 2.2 }, itemStyle: { color: lineColors[k] },
                    silent: true, z: 3
                });
            }
        } else {
            (function (row, col, g) {
                var items = [];
                contSets.forEach(function (set, k) {
                    set.forEach(function (e) { if (e[0] === row && e[1] === col) items.push({ k: k, e: e }); });
                });
                series.push({
                    type: 'custom', xAxisIndex: 2 * g, yAxisIndex: 2 * g, silent: true, z: 2,
                    data: items.map(function (it) { return [it.e[3], it.e[4]]; }),
                    renderItem: function (params, api) {
                        var it = items[params.dataIndex];
                        var pts = clipPoly(outline(it.e, api), params.coordSys);
                        if (pts.length < 3) return null;
                        var light = it.e[2] === 0;
                        return {
                            type: 'polygon', shape: { points: pts },
                            style: {
                                fill: fills[it.k][it.e[2]],
                                stroke: light ? 'rgba(110,130,110,0.35)' : null,
                                lineWidth: light ? 0.8 : 0
                            }
                        };
                    }
                });
                crossSets.forEach(function (set, k) {
                    var pts = set.filter(function (p) { return p[0] === row && p[1] === col; })
                        .map(function (p) { return [p[2], p[3]]; });
                    if (!pts.length) return;
                    series.push({
                        type: 'scatter', xAxisIndex: 2 * g, yAxisIndex: 2 * g, data: pts, clip: true,
                        symbol: 'path://M6.2,0H7.8V6.2H14V7.8H7.8V14H6.2V7.8H0V6.2H6.2Z', symbolSize: 15,
                        itemStyle: { color: crossColors[k], opacity: 0.9 }, silent: true, z: 4
                    });
                });
            })(r, c, gi);
        }
        gi++;
    }
}

var option = {
    backgroundColor: '#fafcfa',
    animation: false,
    textStyle: { fontFamily: F },
    grid: grids,
    xAxis: xAxes,
    yAxis: yAxes,
    legend: {
        data: names, orient: 'vertical', left: 763, top: 10, icon: 'rect',
        itemWidth: 45, itemHeight: 16, itemGap: 8.5, selectedMode: false,
        textStyle: { fontFamily: F, fontSize: 21.5, color: '#1a1a1a', padding: [0, 0, 0, 13] }
    },
    graphic: [
        { type: 'text', x: 637, y: 271, style: { text: 'Dark matter bounds', font: 'bold 54px Lato, "Open Sans", sans-serif', fill: '#111', textVerticalAlign: 'middle', verticalAlign: 'middle' } },
        { type: 'text', x: 712, y: 336, style: { text: 'with respect to emulator', font: 'bold 54px Lato, "Open Sans", sans-serif', fill: '#111', textVerticalAlign: 'middle', verticalAlign: 'middle' } },
        { type: 'text', x: 707, y: 1095, style: { text: '32', font: 'bold 20px "DejaVu Serif", serif', fill: '#2a2a2a', textVerticalAlign: 'middle', verticalAlign: 'middle' } }
    ],
    series: series
};
myChart.setOption(option);
</script>
</body>
</html>
